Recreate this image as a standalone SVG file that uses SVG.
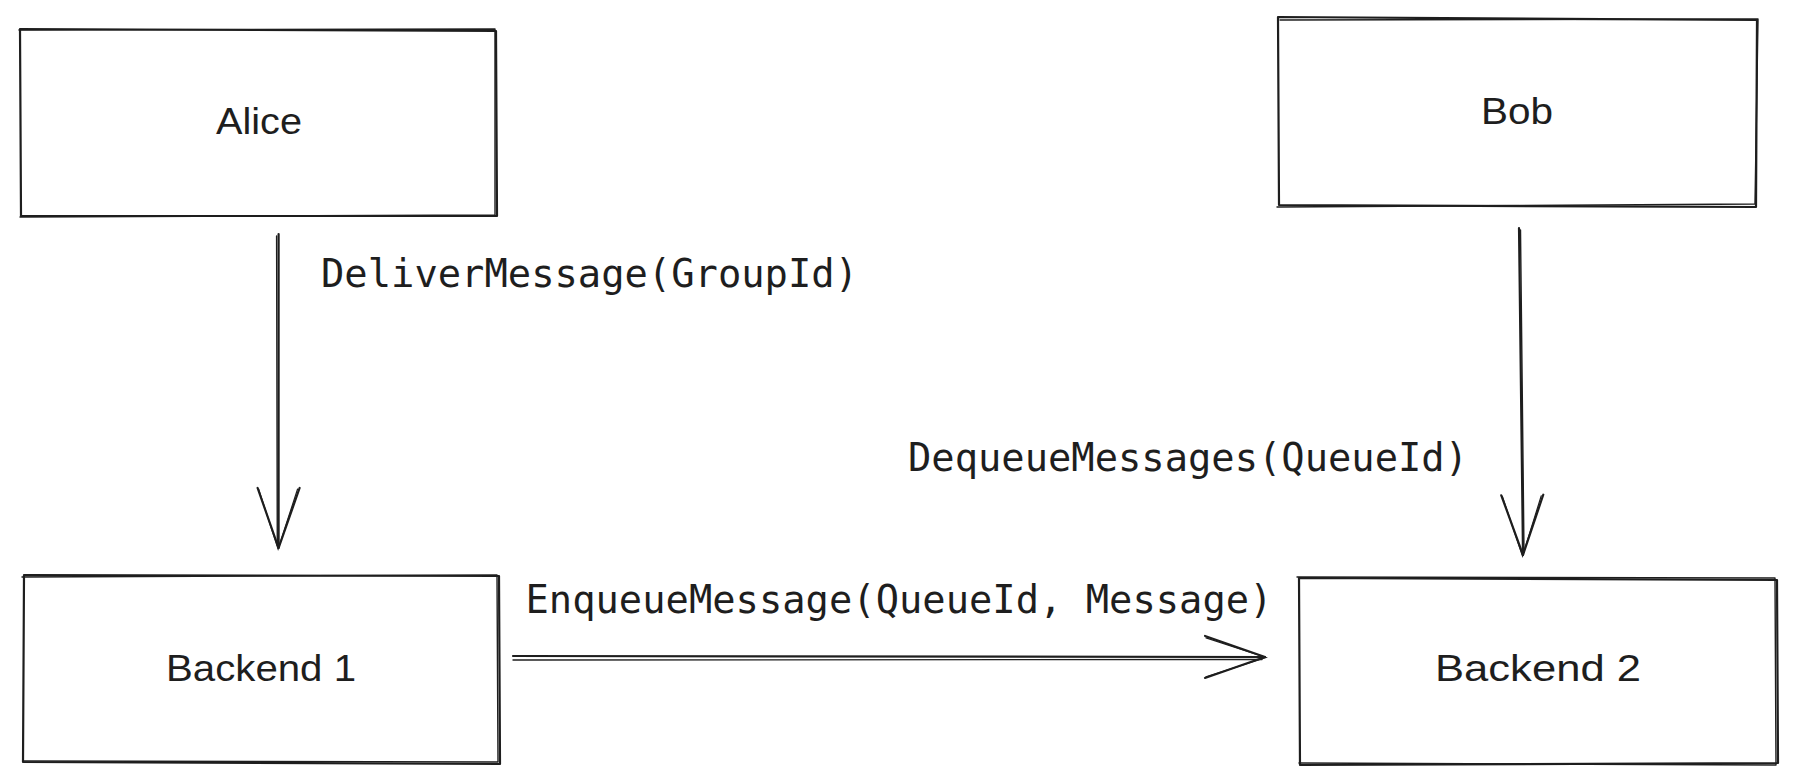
<svg xmlns="http://www.w3.org/2000/svg" width="1796" height="783" viewBox="0 0 1796 783">
<style>
.bg{fill:#ffffff}
.sk{fill:none;stroke:#1e1e1e;stroke-width:2.2;stroke-linecap:round;stroke-linejoin:round}
.sk2{fill:none;stroke:#1e1e1e;stroke-width:1.4;stroke-linecap:round;stroke-linejoin:round}
.hand{font-family:"Liberation Sans","DejaVu Sans",sans-serif;font-size:37px;fill:#1e1e1e;text-anchor:middle}
.code{font-family:"DejaVu Sans Mono","Liberation Mono",monospace;font-size:38.8px;fill:#1e1e1e}
</style>
<defs>
<marker id="chev" markerUnits="userSpaceOnUse" markerWidth="80" markerHeight="60" viewBox="-70 -30 80 60" refX="0" refY="0" orient="auto" overflow="visible">
<path d="M-60,-21 L0,0 L-60,21" fill="none" stroke="#1e1e1e" stroke-width="2.2" stroke-linecap="round" stroke-linejoin="round"/>
<path d="M-59,-19 L1,0.5 L-59,20" fill="none" stroke="#1e1e1e" stroke-width="1.2" stroke-linecap="round"/>
</marker>
</defs>
<rect class="bg" x="0" y="0" width="1796" height="783"/>

<g id="alice">
<path class="sk" d="M20,29 L496,31 L497,216 L21,216 Z"/>
<path class="sk2" d="M19,30 L495,29 L495,215 L20,217"/>
<text class="hand" x="259" y="134" textLength="86" lengthAdjust="spacingAndGlyphs">Alice</text>
</g>

<g id="bob">
<path class="sk" d="M1278,17 L1757,20 L1756,207 L1279,205 Z"/>
<path class="sk2" d="M1280,20 L1758,19 L1755,204 L1277,207"/>
<text class="hand" x="1517" y="124" textLength="72" lengthAdjust="spacingAndGlyphs">Bob</text>
</g>

<g id="backend1">
<path class="sk" d="M24,575 L499,576 L500,764 L23,762 Z"/>
<path class="sk2" d="M22,577 L497,575 L498,762 L24,761"/>
<text class="hand" x="261" y="681" textLength="190" lengthAdjust="spacingAndGlyphs">Backend 1</text>
</g>

<g id="backend2">
<path class="sk" d="M1299,578 L1777,580 L1778,763 L1300,765 Z"/>
<path class="sk2" d="M1297,577 L1775,578 L1776,765 L1299,763"/>
<text class="hand" x="1538" y="681" textLength="206" lengthAdjust="spacingAndGlyphs">Backend 2</text>
</g>

<g id="connectors">
<path class="sk" d="M278.6,234 L278.6,548" marker-end="url(#chev)"/>
<path class="sk2" d="M276.6,236 L277.3,545"/>
<text class="code" x="321" y="287" textLength="537" lengthAdjust="spacingAndGlyphs">DeliverMessage(GroupId)</text>

<path class="sk" d="M1519,228 L1523,555" marker-end="url(#chev)"/>
<path class="sk2" d="M1520.5,230 L1524,552"/>
<text class="code" x="908" y="471" textLength="560" lengthAdjust="spacingAndGlyphs">DequeueMessages(QueueId)</text>

<path class="sk" d="M513,656 L1265,657" marker-end="url(#chev)"/>
<path class="sk2" d="M513,660 L1262,659.5"/>
<text class="code" x="525.5" y="613" textLength="747" lengthAdjust="spacingAndGlyphs">EnqueueMessage(QueueId, Message)</text>
</g>
</svg>
